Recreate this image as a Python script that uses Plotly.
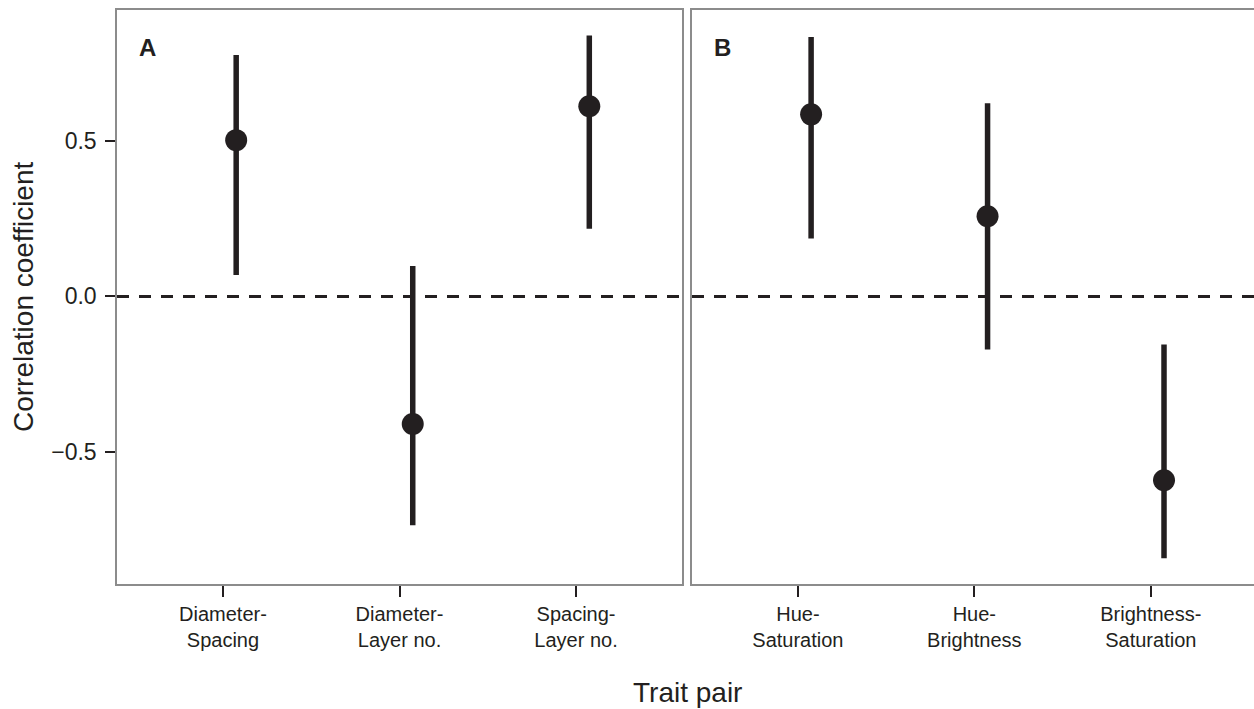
import plotly.graph_objects as go

# ---- data ----
pairs_a = ["Diameter-<br>Spacing", "Diameter-<br>Layer no.", "Spacing-<br>Layer no."]
est_a = [0.503, -0.411, 0.612]
lo_a = [0.069, -0.737, 0.218]
hi_a = [0.777, 0.098, 0.840]

pairs_b = ["Hue-<br>Saturation", "Hue-<br>Brightness", "Brightness-<br>Saturation"]
est_b = [0.586, 0.258, -0.592]
lo_b = [0.186, -0.171, -0.843]
hi_b = [0.835, 0.622, -0.155]

y_ticks = [-0.5, 0.0, 0.5]
y_ticktext = ["\u22120.5", "0.0", "0.5"]

panel_labels = ["A", "B"]
x_title = "Trait pair"
y_title = "Correlation coefficient"

# ---- style ----
INK = "#231f20"
FRAME = "#8c8c8c"
FONT = "Liberation Sans, Arial, Helvetica, sans-serif"
DODGE = 0.075

W, H = 1254, 709
ML, MR, MT, MB = 117, 0, 10, 125
plot_w = W - ML - MR
plot_h = H - MT - MB

fig = go.Figure()

panels = [
    (pairs_a, est_a, lo_a, hi_a, "x", "y"),
    (pairs_b, est_b, lo_b, hi_b, "x2", "y2"),
]
for pairs, est, lo, hi, xa, ya in panels:
    xs = [i + 1 + DODGE for i in range(len(pairs))]
    fig.add_trace(go.Scatter(
        x=xs, y=est, xaxis=xa, yaxis=ya, mode="markers",
        marker=dict(size=22, color=INK, line=dict(width=0)),
        error_y=dict(type="data", symmetric=False,
                     array=[h - e for h, e in zip(hi, est)],
                     arrayminus=[e - l for e, l in zip(est, lo)],
                     width=0, thickness=5.5, color=INK),
        showlegend=False, hoverinfo="skip",
    ))

dom_a = [0, (682 - ML) / plot_w]
dom_b = [(692 - ML) / plot_w, 1.0]

xcommon = dict(
    tickmode="array", tickvals=[1, 2, 3], ticks="outside", ticklen=11, tickwidth=2,
    tickcolor=INK, showgrid=False, zeroline=False, showline=True, linecolor=FRAME,
    linewidth=1.5, mirror=True, tickfont=dict(family=FONT, size=20, color=INK),
    fixedrange=True,
)
ycommon = dict(
    range=[-0.926, 0.922], tickmode="array", tickvals=y_ticks, ticktext=y_ticktext,
    ticklen=10, tickwidth=2, tickcolor=INK, showgrid=False,
    zeroline=False, showline=True, linecolor=FRAME, linewidth=1.5,
    tickfont=dict(family=FONT, size=23, color=INK), fixedrange=True,
)

fig.update_layout(
    width=W, height=H,
    margin=dict(l=ML, r=MR, t=MT, b=MB),
    paper_bgcolor="white", plot_bgcolor="white",
    font=dict(family=FONT, color=INK),
    xaxis=dict(domain=dom_a, range=[0.4, 3.6], ticktext=pairs_a, anchor="y", **xcommon),
    xaxis2=dict(domain=dom_b, range=[0.4, 3.585], ticktext=pairs_b, anchor="y2", **xcommon),
    yaxis=dict(anchor="x", mirror=True, ticks="outside", ticklabelstandoff=4, **ycommon),
    yaxis2=dict(anchor="x2", mirror=False, showticklabels=False, ticks="", **ycommon),
)

# zero reference lines
for xa, ya in (("x", "y"), ("x2", "y2")):
    fig.add_shape(type="line", xref=f"{xa} domain", yref=ya, x0=0, x1=1, y0=0, y1=0,
                  line=dict(color=INK, width=3, dash="12px,10px"), layer="below")

# panel letters
for lab, xa, ya in zip(panel_labels, ("x", "x2"), ("y", "y2")):
    fig.add_annotation(text=f"<b>{lab}</b>", xref=f"{xa} domain", yref=f"{ya} domain",
                       x=20 / 565, y=1 - 22 / plot_h, xanchor="left", yanchor="top",
                       showarrow=False, font=dict(family=FONT, size=24, color=INK))

# axis titles
fig.add_annotation(text=y_title, xref="paper", yref="paper",
                   x=(23 - ML) / plot_w, y=(H - MB - 297) / plot_h, textangle=-90,
                   xanchor="center", yanchor="middle", showarrow=False,
                   font=dict(family=FONT, size=28, color=INK))
fig.add_annotation(text=x_title, xref="paper", yref="paper",
                   x=(687 - ML) / plot_w, y=-(692 - (H - MB)) / plot_h,
                   xanchor="center", yanchor="middle", showarrow=False,
                   font=dict(family=FONT, size=28, color=INK))

fig.write_html("out.html")
